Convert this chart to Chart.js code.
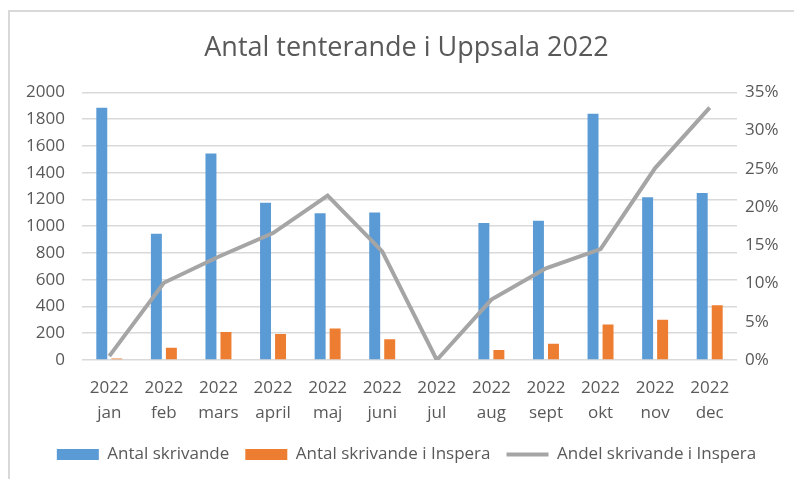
<!DOCTYPE html>
<html>
<head>
<meta charset="utf-8">
<script src="https://cdn.jsdelivr.net/npm/chart.js@4"></script>
<style>
   html, body { margin:0; padding:0; background:#ffffff; }
   #wrap { position:relative; width:794px; height:479px; overflow:hidden; }
   #frame { position:absolute; left:8px; top:10px; width:900px; height:600px;
            border-left:2px solid #d9d9d9; border-top:2px solid #d9d9d9; }
   canvas { position:absolute; left:0; top:0; }
</style>
</head>
<body>
<div id="wrap">
   <div id="frame"></div>
   <canvas id="chart" width="794" height="479"></canvas>
</div>
<script>
const months = ['jan', 'feb', 'mars', 'april', 'maj', 'juni', 'jul', 'aug', 'sept', 'okt', 'nov', 'dec'];
const year = '2022';

// values
const writers = [1885, 944, 1543, 1176, 1096, 1103, 0, 1024, 1041, 1840, 1216, 1249];
const writersInspera = [12, 92, 210, 195, 235, 155, 0, 75, 122, 265, 300, 410];
const shareInspera = [0.005, 0.101, 0.135, 0.166, 0.215, 0.142, 0, 0.079, 0.120, 0.145, 0.251, 0.330];

const leftTicks = [0, 200, 400, 600, 800, 1000, 1200, 1400, 1600, 1800, 2000];
const rightTicks = [0, 0.05, 0.10, 0.15, 0.20, 0.25, 0.30, 0.35];

const textColor = '#595959';
const gridColor = '#d9d9d9';
const fontFamily = '"Open Sans", sans-serif';

Chart.defaults.font.family = fontFamily;
Chart.defaults.color = textColor;

let labels = months.map((m) => [year, m]);

let data = {
   labels: labels,
   datasets: [{
      type: 'bar',
      label: 'Antal skrivande',
      data: writers,
      backgroundColor: '#5b9bd5',
      borderWidth: 0,
      pointStyle: 'rect',
      yAxisID: 'y',
      order: 1
   }, {
      type: 'bar',
      label: 'Antal skrivande i Inspera',
      data: writersInspera,
      backgroundColor: '#ed7d31',
      borderWidth: 0,
      pointStyle: 'rect',
      yAxisID: 'y',
      order: 1
   }, {
      type: 'line',
      label: 'Andel skrivande i Inspera',
      data: shareInspera,
      borderColor: '#a5a5a5',
      backgroundColor: '#a5a5a5',
      borderWidth: 4,
      pointRadius: 0,
      pointStyle: 'line',
      tension: 0,
      yAxisID: 'y1',
      order: 0
   }]
};

new Chart(document.getElementById('chart').getContext('2d'), {
   type: 'bar',
   data: data,
   options: {
      responsive: false,
      animation: false,
      layout: { padding: { left: 19, right: 0, top: 11, bottom: 6 } },
      datasets: {
         bar: { categoryPercentage: 0.55, barPercentage: 0.73 }
      },
      plugins: {
         title: {
            display: true,
            text: 'Antal tenterande i Uppsala 2022',
            color: textColor,
            font: { size: 27, weight: 'normal', family: fontFamily },
            padding: { top: 21, bottom: 28 }
         },
         legend: {
            position: 'bottom',
            labels: {
               usePointStyle: true,
               pointStyleWidth: 42,
               boxHeight: 11,
               padding: 16,
               color: textColor,
               font: { size: 17 },
               sort: (a, b) => a.datasetIndex - b.datasetIndex
            }
         },
         tooltip: { enabled: false }
      },
      scales: {
         x: {
            grid: { display: false },
            border: { display: false },
            ticks: {
               autoSkip: false,
               maxRotation: 0,
               padding: 8,
               color: textColor,
               font: { size: 17, lineHeight: 1.45 }
            },
            afterFit: (scale) => { scale.height = 70; }
         },
         y: {
            position: 'left',
            min: 0,
            max: 2000,
            afterBuildTicks: (scale) => { scale.ticks = leftTicks.map((v) => ({ value: v })); },
            grid: { color: gridColor, lineWidth: 1.5, drawTicks: false },
            border: { display: false },
            ticks: {
               padding: 17,
               color: textColor,
               font: { size: 17 },
               callback: (v) => String(v)
            },
            afterFit: (scale) => { scale.width = 63; }
         },
         y1: {
            position: 'right',
            min: 0,
            max: 0.35,
            afterBuildTicks: (scale) => { scale.ticks = rightTicks.map((v) => ({ value: v })); },
            grid: { display: false, drawTicks: false },
            border: { display: false },
            ticks: {
               padding: 8,
               color: textColor,
               font: { size: 17 },
               callback: (v) => Math.round(v * 100) + '%'
            },
            afterFit: (scale) => { scale.width = 57; }
         }
      }
   }
});
</script>
</body>
</html>
